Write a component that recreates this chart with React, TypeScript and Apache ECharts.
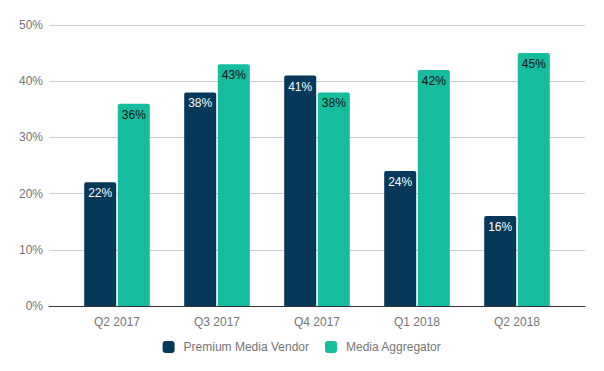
import React, { useEffect, useRef } from "react";
import * as echarts from "echarts";

const categories = ["Q2 2017", "Q3 2017", "Q4 2017", "Q1 2018", "Q2 2018"];
const premiumMediaVendor = [22, 38, 41, 24, 16];
const mediaAggregator = [36, 43, 38, 42, 45];
const seriesNames = ["Premium Media Vendor", "Media Aggregator"];
const colors = ["#053859", "#15bc9e"];

export default function App() {
  const ref = useRef<HTMLDivElement>(null);
  useEffect(() => {
    if (!ref.current) return;
    const chart = echarts.init(ref.current, null, { renderer: "svg" });
    const font = "Liberation Sans, Arial, sans-serif";
    chart.setOption({
      animation: false,
      textStyle: { fontFamily: font },
      legend: {
        data: seriesNames,
        left: "center",
        top: 336,
        icon: "roundRect",
        itemWidth: 12,
        itemHeight: 12,
        itemGap: 16,
        textStyle: { color: "#757575", fontSize: 12, fontFamily: font, padding: [0, 0, 0, 4] },
      },
      grid: [
        { left: 49, right: 19, top: 25, bottom: 65 },
        { left: 67, right: 37, top: 25, bottom: 65 },
      ],
      xAxis: [
        {
          gridIndex: 0,
          type: "value",
          min: 0,
          max: 1,
          axisLine: { show: true, lineStyle: { color: "#333", width: 1 } },
          axisTick: { show: false },
          axisLabel: { show: false },
          splitLine: { show: false },
        },
        {
          gridIndex: 1,
          type: "category",
          data: categories,
          axisLine: { show: false },
          axisTick: { show: false },
          axisLabel: { color: "#757575", fontSize: 12, margin: 10, fontFamily: font },
        },
      ],
      yAxis: [
        {
          gridIndex: 0,
          type: "value",
          min: 0,
          max: 50,
          interval: 10,
          axisLine: { show: false },
          axisTick: { show: false },
          axisLabel: { color: "#757575", fontSize: 12, margin: 6, formatter: "{value}%", fontFamily: font },
          splitLine: { lineStyle: { color: "#cccccc", width: 1 } },
        },
        {
          gridIndex: 1,
          type: "value",
          min: 0,
          max: 50,
          interval: 10,
          show: false,
          splitLine: { show: false },
        },
      ],
      series: [
        {
          name: seriesNames[0],
          type: "bar",
          xAxisIndex: 1,
          yAxisIndex: 1,
          data: premiumMediaVendor,
          barWidth: 32,
          barGap: "5%",
          itemStyle: { color: colors[0], borderRadius: [2, 2, 0, 0] },
          label: {
            show: true,
            position: "insideTop",
            distance: 5,
            formatter: "{c}%",
            color: "#ffffff",
            fontSize: 12,
            fontFamily: font,
          },
        },
        {
          name: seriesNames[1],
          type: "bar",
          xAxisIndex: 1,
          yAxisIndex: 1,
          data: mediaAggregator,
          barWidth: 32,
          barGap: "5%",
          itemStyle: { color: colors[1], borderRadius: [2, 2, 0, 0] },
          label: {
            show: true,
            position: "insideTop",
            distance: 5,
            formatter: "{c}%",
            color: "#111111",
            fontSize: 12,
            fontFamily: font,
          },
        },
      ],
    });
    return () => chart.dispose();
  }, []);
  return <div ref={ref} style={{ width: 604, height: 371, position: "absolute", left: 0, top: 0 }} />;
}
